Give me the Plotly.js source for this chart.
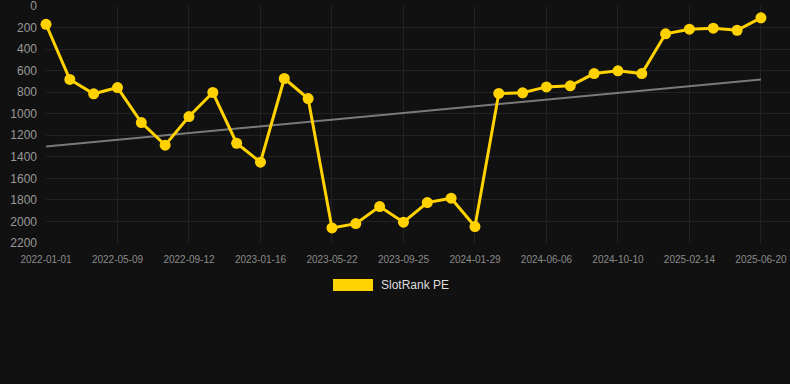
<!DOCTYPE html>
<html>
<head>
<meta charset="utf-8">
<script src="https://cdn.plot.ly/plotly-3.0.1.min.js"></script>
<style>
html,body{margin:0;padding:0;background:#111111;}
#chart{width:790px;height:384px;}
</style>
</head>
<body>
<div id="chart"></div>
<script>
const dates = [
  "2022-01-01","2022-02-12","2022-03-26","2022-05-09","2022-06-20","2022-08-01",
  "2022-09-12","2022-10-24","2022-12-05","2023-01-16","2023-02-27","2023-04-10",
  "2023-05-22","2023-07-03","2023-08-14","2023-09-25","2023-11-06","2023-12-18",
  "2024-01-29","2024-03-11","2024-04-22","2024-06-06","2024-07-18","2024-08-29",
  "2024-10-10","2024-11-21","2025-01-02","2025-02-14","2025-03-28","2025-05-09",
  "2025-06-20"
];
const rankValues = [
  170, 682, 815, 757, 1082, 1292,
  1026, 803, 1274, 1450, 673, 859,
  2060, 2020, 1862, 2007, 1825, 1784,
  2047, 812, 806, 751, 741, 627,
  602, 627, 258, 215, 206, 225,
  110
];
const tickLabels = [
  "2022-01-01","2022-05-09","2022-09-12","2023-01-16","2023-05-22","2023-09-25",
  "2024-01-29","2024-06-06","2024-10-10","2025-02-14","2025-06-20"
];
const trendDates = ["2022-01-01","2025-06-20"];
const trendValues = [1305, 682];
const seriesName = "SlotRank PE";

const gold = "#FFD200";

const traces = [
  {
    x: trendDates, y: trendValues, type: "scatter", mode: "lines",
    line: {color: "#7a7a7a", width: 2}, hoverinfo: "skip", showlegend: false,
    cliponaxis: false
  },
  {
    x: dates, y: rankValues, type: "scatter", mode: "lines+markers",
    name: seriesName,
    line: {color: gold, width: 3},
    marker: {color: gold, size: 11},
    showlegend: false, cliponaxis: false
  }
];

const layout = {
  width: 790, height: 384,
  paper_bgcolor: "#111111", plot_bgcolor: "#111111",
  margin: {l: 46, r: 0, t: 6, b: 141},
  font: {family: "Liberation Sans, Arial, Helvetica, sans-serif", color: "#999999"},
  showlegend: false,
  xaxis: {
    type: "category",
    categoryorder: "array", categoryarray: dates,
    range: [0, 31.22],
    tickmode: "array", tickvals: tickLabels, ticktext: tickLabels,
    tickangle: 0,
    showgrid: true, gridcolor: "#222222", gridwidth: 1,
    zeroline: false, showline: false, ticks: "",
    ticklabelstandoff: 9, ticklabeloverflow: "allow",
    tickfont: {size: 10, color: "#8a8a8a"}
  },
  yaxis: {
    range: [2200, 0],
    tickmode: "array",
    tickvals: [0,200,400,600,800,1000,1200,1400,1600,1800,2000,2200],
    showgrid: true, gridcolor: "#222222", gridwidth: 1,
    zeroline: false, showline: false, ticks: "",
    ticklabelstandoff: 8, ticklabeloverflow: "allow",
    tickfont: {size: 12, color: "#999999"}
  },
  shapes: [
    {type: "rect", xref: "paper", yref: "paper",
     x0: (333-46)/744, x1: (373-46)/744,
     y0: (243-291)/237, y1: (243-279)/237,
     fillcolor: gold, line: {width: 0}}
  ],
  annotations: [
    {text: seriesName, xref: "paper", yref: "paper",
     x: (379-46)/744, y: (243-285)/237, xanchor: "left", yanchor: "middle",
     showarrow: false, font: {size: 12, color: "#dddddd"}}
  ]
};

Plotly.newPlot("chart", traces, layout, {displayModeBar: false, staticPlot: true});
</script>
</body>
</html>
